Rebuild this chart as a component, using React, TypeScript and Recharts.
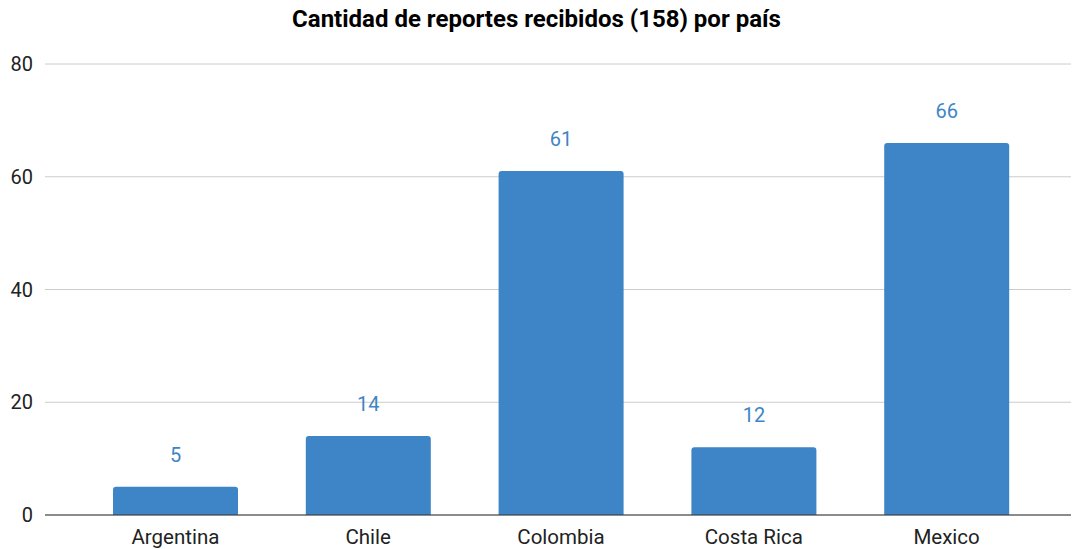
import React from 'react';
import { BarChart, Bar, XAxis, YAxis, CartesianGrid, LabelList } from 'recharts';

const countries = ['Argentina', 'Chile', 'Colombia', 'Costa Rica', 'Mexico'];
const reports = [5, 14, 61, 12, 66];
const yTicks = [0, 20, 40, 60, 80];

const data = countries.map((country, i) => ({ country, reports: reports[i] }));

const BLUE = '#3d85c6';

const App: React.FC = () => {
  return (
    <div style={{ position: 'absolute', left: 0, top: 0, width: 1073, height: 549, fontFamily: 'Roboto, sans-serif' }}>
      <div
        style={{
          position: 'absolute',
          top: 5,
          left: 0,
          width: 1073,
          textAlign: 'center',
          fontSize: 24,
          fontWeight: 700,
          color: '#000',
        }}
      >
        Cantidad de reportes recibidos (158) por país
      </div>
      <BarChart
        width={1073}
        height={549}
        data={data}
        margin={{ top: 64, right: 2, bottom: 4, left: 0 }}
        barSize={125}
      >
        <CartesianGrid vertical={false} stroke="#cccccc" />
        <XAxis
          dataKey="country"
          tickLine={false}
          axisLine={{ stroke: '#333333' }}
          height={30}
          padding={{ left: 34, right: 28 }}
          tick={{ fill: '#222222', fontSize: 20.5 }}
          tickMargin={8}
        />
        <YAxis
          domain={[0, 80]}
          ticks={yTicks}
          width={45}
          axisLine={false}
          tickLine={false}
          tickMargin={6}
          tick={{ fill: '#222222', fontSize: 20 }}
        />
        <Bar dataKey="reports" fill={BLUE} radius={[3, 3, 0, 0]} isAnimationActive={false}>
          <LabelList dataKey="reports" position="top" offset={25} fill={BLUE} fontSize={20} />
        </Bar>
      </BarChart>
    </div>
  );
};

export default App;
